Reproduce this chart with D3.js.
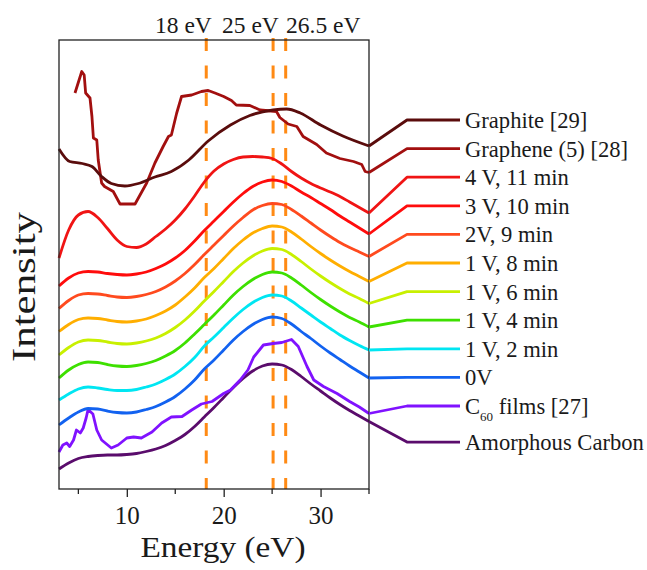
<!DOCTYPE html>
<html>
<head>
<meta charset="utf-8">
<title>Plasmon spectra</title>
<script src="https://d3js.org/d3.v7.min.js"></script>
<style>
  body { margin: 0; background: #fff; }
  svg text { font-family: "Liberation Serif", "Times New Roman", serif; fill: #1a1a1a; }
</style>
</head>
<body>
<div id="chart"></div>
<script>
// energy grid (eV) used by the smooth spectra
var energy = [3,4,5,6,7,8,9,10,11,12,13,14,15,16,17,18,19,20,21,22,23,24,25,26,27,28,29,30,31,32,33,34,35];

// intensities (a.u., stacked with offsets)
var amorphous = [0.40,0.52,0.61,0.65,0.67,0.68,0.68,0.69,0.71,0.75,0.80,0.87,0.97,1.09,1.25,1.44,1.63,1.83,2.03,2.21,2.36,2.46,2.50,2.48,2.39,2.25,2.10,1.96,1.82,1.69,1.57,1.46,1.35];
var v0    = [1.28,1.42,1.54,1.61,1.60,1.56,1.53,1.52,1.54,1.59,1.65,1.74,1.85,2.00,2.18,2.40,2.58,2.78,2.98,3.15,3.29,3.39,3.44,3.41,3.30,3.15,3.01,2.86,2.72,2.59,2.46,2.34,2.22];
var v1m2  = [1.78,1.90,2.00,2.04,2.02,1.99,1.97,1.97,1.99,2.04,2.10,2.19,2.30,2.45,2.63,2.86,3.04,3.23,3.42,3.59,3.73,3.83,3.88,3.86,3.76,3.62,3.48,3.34,3.21,3.08,2.97,2.87,2.78];
var v1m4  = [2.22,2.38,2.49,2.54,2.53,2.49,2.46,2.45,2.47,2.51,2.57,2.66,2.77,2.92,3.10,3.29,3.48,3.68,3.88,4.05,4.19,4.29,4.34,4.32,4.22,4.08,3.93,3.79,3.66,3.54,3.43,3.34,3.24];
var v1m6  = [2.68,2.83,2.94,2.98,2.97,2.94,2.91,2.90,2.92,2.96,3.02,3.11,3.23,3.38,3.56,3.76,3.95,4.15,4.35,4.52,4.66,4.76,4.81,4.79,4.69,4.55,4.40,4.26,4.13,4.01,3.90,3.81,3.71];
var v1m8  = [3.15,3.29,3.39,3.42,3.41,3.38,3.35,3.34,3.36,3.40,3.47,3.56,3.68,3.84,4.02,4.23,4.41,4.61,4.81,4.98,5.12,5.21,5.26,5.24,5.14,5.00,4.85,4.71,4.58,4.46,4.35,4.25,4.15];
var v2m9  = [3.61,3.77,3.88,3.91,3.90,3.87,3.84,3.83,3.85,3.89,3.95,4.04,4.16,4.31,4.49,4.69,4.88,5.07,5.26,5.43,5.58,5.67,5.71,5.69,5.59,5.46,5.32,5.18,5.05,4.93,4.83,4.74,4.65];
var v3m10 = [4.06,4.22,4.32,4.35,4.34,4.31,4.29,4.28,4.30,4.34,4.41,4.50,4.62,4.77,4.96,5.17,5.36,5.55,5.74,5.91,6.05,6.14,6.18,6.15,6.06,5.94,5.83,5.71,5.59,5.46,5.34,5.22,5.10];
var v4m11 = [4.62,5.18,5.48,5.55,5.43,5.21,4.98,4.85,4.83,4.90,5.05,5.20,5.38,5.60,5.86,6.14,6.36,6.50,6.59,6.64,6.65,6.64,6.61,6.50,6.35,6.22,6.11,6.02,5.94,5.85,5.74,5.63,5.52];

// reference spectra as [energy, intensity] pairs
var c60 = [[3.0,0.74],[3.4,0.88],[3.8,0.92],[4.1,0.85],[4.5,0.98],[4.8,1.18],[5.2,1.12],[5.5,1.22],[5.8,1.42],[6.0,1.59],[6.5,1.50],[6.9,1.18],[7.4,0.98],[8.4,0.82],[9.1,0.88],[10.0,1.02],[10.7,1.04],[11.5,1.02],[12.6,1.14],[13.6,1.32],[14.6,1.44],[15.7,1.45],[16.7,1.58],[17.7,1.70],[18.8,1.75],[20.0,1.91],[20.7,1.98],[21.7,2.18],[22.5,2.38],[23.1,2.64],[24.1,2.88],[25.1,2.91],[26.0,2.93],[27.0,2.99],[27.7,2.85],[28.6,2.45],[29.3,2.18],[30.3,2.05],[31.7,1.91],[33.0,1.75],[34.0,1.64],[35.0,1.51]];
var graphene = [[4.65,7.92],[5.35,8.35],[5.6,8.28],[5.75,7.92],[6.2,7.82],[6.4,7.45],[6.55,7.02],[6.9,6.98],[7.05,6.58],[7.4,6.12],[7.7,6.05],[8.6,5.95],[9.3,5.70],[10.85,5.70],[12.05,6.12],[12.9,6.52],[13.75,6.85],[14.3,7.05],[14.6,7.08],[15.15,7.52],[15.65,7.85],[16.7,7.88],[17.7,7.95],[18.4,7.97],[19.1,7.92],[20.0,7.85],[20.8,7.77],[21.3,7.68],[22.7,7.67],[23.75,7.58],[25.45,7.55],[25.8,7.43],[26.65,7.30],[27.55,7.25],[28.2,7.05],[29.6,6.89],[30.6,6.72],[32.0,6.61],[33.4,6.55],[34.25,6.49],[34.6,6.35],[35.0,6.33]];
var graphite = [[3.0,6.80],[4.1,6.55],[5.4,6.51],[6.4,6.45],[7.4,6.25],[8.4,6.11],[9.8,6.06],[11.2,6.11],[12.9,6.24],[14.6,6.35],[16.4,6.58],[18.4,6.96],[20.7,7.28],[22.7,7.47],[25.1,7.58],[26.5,7.60],[27.9,7.52],[30.0,7.28],[32.3,7.06],[35.0,6.86]];

// legend labels and colours, bottom to top
var names  = ["Amorphous Carbon", "C60 films [27]", "0V", "1 V, 2 min", "1 V, 4 min", "1 V, 6 min", "1 V, 8 min", "2V, 9 min", "3 V, 10 min", "4 V, 11 min", "Graphene (5) [28]", "Graphite [29]"];
var colors = ["#5a0c6c", "#8012ff", "#1262f0", "#00e6f2", "#3ee000", "#c8f000", "#ffae00", "#ff4a1e", "#ff0c0c", "#f01414", "#a20f0f", "#5a0c0c"];

// marked plasmon energies
var markPos    = [18.2, 25.1, 26.4];
var markLabels = ["18 eV", "25 eV", "26.5 eV"];
var xTicks = [10, 20, 30];
var xMinor = [5, 15, 25, 35];

function pairs(vals) { return energy.map(function(e, i) { return [e, vals[i]]; }); }

var series = [
  { pts: pairs(amorphous), curve: d3.curveMonotoneX },
  { pts: c60, curve: d3.curveLinear },
  { pts: pairs(v0), curve: d3.curveMonotoneX },
  { pts: pairs(v1m2), curve: d3.curveMonotoneX },
  { pts: pairs(v1m4), curve: d3.curveMonotoneX },
  { pts: pairs(v1m6), curve: d3.curveMonotoneX },
  { pts: pairs(v1m8), curve: d3.curveMonotoneX },
  { pts: pairs(v2m9), curve: d3.curveMonotoneX },
  { pts: pairs(v3m10), curve: d3.curveMonotoneX },
  { pts: pairs(v4m11), curve: d3.curveMonotoneX },
  { pts: graphene, curve: d3.curveLinear },
  { pts: graphite, curve: d3.curveMonotoneX }
];

////////////////////////////////////////////////////////////
//////////////////////// Set-Up ////////////////////////////
////////////////////////////////////////////////////////////
var width = 647, height = 570;
var plot = { left: 59, right: 369, top: 40, bottom: 489 };

var x = d3.scaleLinear().domain([3, 35]).range([plot.left, plot.right]);
var y = d3.scaleLinear().domain([0, 8.98]).range([plot.bottom, plot.top]);

var svg = d3.select("#chart").append("svg")
  .attr("width", width)
  .attr("height", height);

// dashed markers
svg.selectAll("line.mark")
  .data(markPos)
  .enter().append("line")
  .attr("class", "mark")
  .attr("x1", function(d) { return x(d); })
  .attr("x2", function(d) { return x(d); })
  .attr("y1", plot.top - 2)
  .attr("y2", plot.bottom)
  .style("stroke", "#ff8a14")
  .style("stroke-width", 3)
  .style("stroke-dasharray", "13,14.5");

svg.append("text").attr("x", 155).attr("y", 33).style("font-size", "23.5px").text(markLabels[0]);
svg.append("text").attr("x", 222).attr("y", 33).style("font-size", "23.5px").text(markLabels[1]);
svg.append("text").attr("x", 286).attr("y", 33).style("font-size", "23.5px").text(markLabels[2]);

// spectra
var line = d3.line().x(function(d) { return x(d[0]); }).y(function(d) { return y(d[1]); });

series.forEach(function(s, i) {
  svg.append("path")
    .attr("d", line.curve(s.curve)(s.pts))
    .style("fill", "none")
    .style("stroke", colors[i])
    .style("stroke-width", 2.8)
    .style("stroke-linejoin", "round");
});

// frame
svg.append("rect")
  .attr("x", plot.left).attr("y", plot.top)
  .attr("width", plot.right - plot.left).attr("height", plot.bottom - plot.top)
  .style("fill", "none").style("stroke", "#222").style("stroke-width", 1.3);

// x axis
var xAxis = svg.append("g")
  .attr("transform", "translate(0," + plot.bottom + ")")
  .call(d3.axisBottom(x).tickValues(xTicks).tickSize(8).tickSizeOuter(0));
xAxis.select(".domain").remove();
xAxis.selectAll("line").style("stroke", "#222").style("stroke-width", 1.3);
xAxis.selectAll("text")
  .attr("y", 35).attr("dy", null)
  .style("font-family", "'Liberation Serif', 'Times New Roman', serif")
  .style("font-size", "25px").style("fill", "#1a1a1a");

svg.selectAll("line.minor")
  .data(xMinor)
  .enter().append("line")
  .attr("x1", function(d) { return x(d); })
  .attr("x2", function(d) { return x(d); })
  .attr("y1", plot.bottom).attr("y2", plot.bottom + 5)
  .style("stroke", "#222").style("stroke-width", 1.3);

svg.append("text")
  .attr("x", 223).attr("y", 557)
  .attr("text-anchor", "middle")
  .attr("textLength", 165).attr("lengthAdjust", "spacingAndGlyphs")
  .style("font-size", "29px")
  .text("Energy (eV)");

svg.append("text")
  .attr("transform", "translate(35,287) rotate(-90)")
  .attr("text-anchor", "middle")
  .attr("textLength", 150).attr("lengthAdjust", "spacingAndGlyphs")
  .style("font-size", "33px")
  .text("Intensity");

////////////////////////////////////////////////////////////
//////////////////////// Legend ////////////////////////////
////////////////////////////////////////////////////////////
// rows top to bottom; the row under the subscripted label sits a bit lower
function legendY(i) {
  var row = names.length - 1 - i;
  return 120 + row * 28.6 + (i === 0 ? 7.5 : 0);
}

series.forEach(function(s, i) {
  var last = s.pts[s.pts.length - 1];
  var ly = legendY(i);
  svg.append("polyline")
    .attr("points", [[x(last[0]), y(last[1])], [407, ly], [460, ly]].map(function(p) { return p.join(","); }).join(" "))
    .style("fill", "none")
    .style("stroke", colors[i])
    .style("stroke-width", 2.8)
    .style("stroke-linejoin", "round");

  var t = svg.append("text")
    .attr("x", 465).attr("y", ly + 8)
    .style("font-size", "22.6px");
  if (i === 1) {
    t.append("tspan").text("C");
    t.append("tspan").attr("dy", 7).style("font-size", "13px").text("60");
    t.append("tspan").attr("dy", -7).text(" films [27]");
  } else {
    t.text(names[i]);
  }
});
</script>
</body>
</html>
